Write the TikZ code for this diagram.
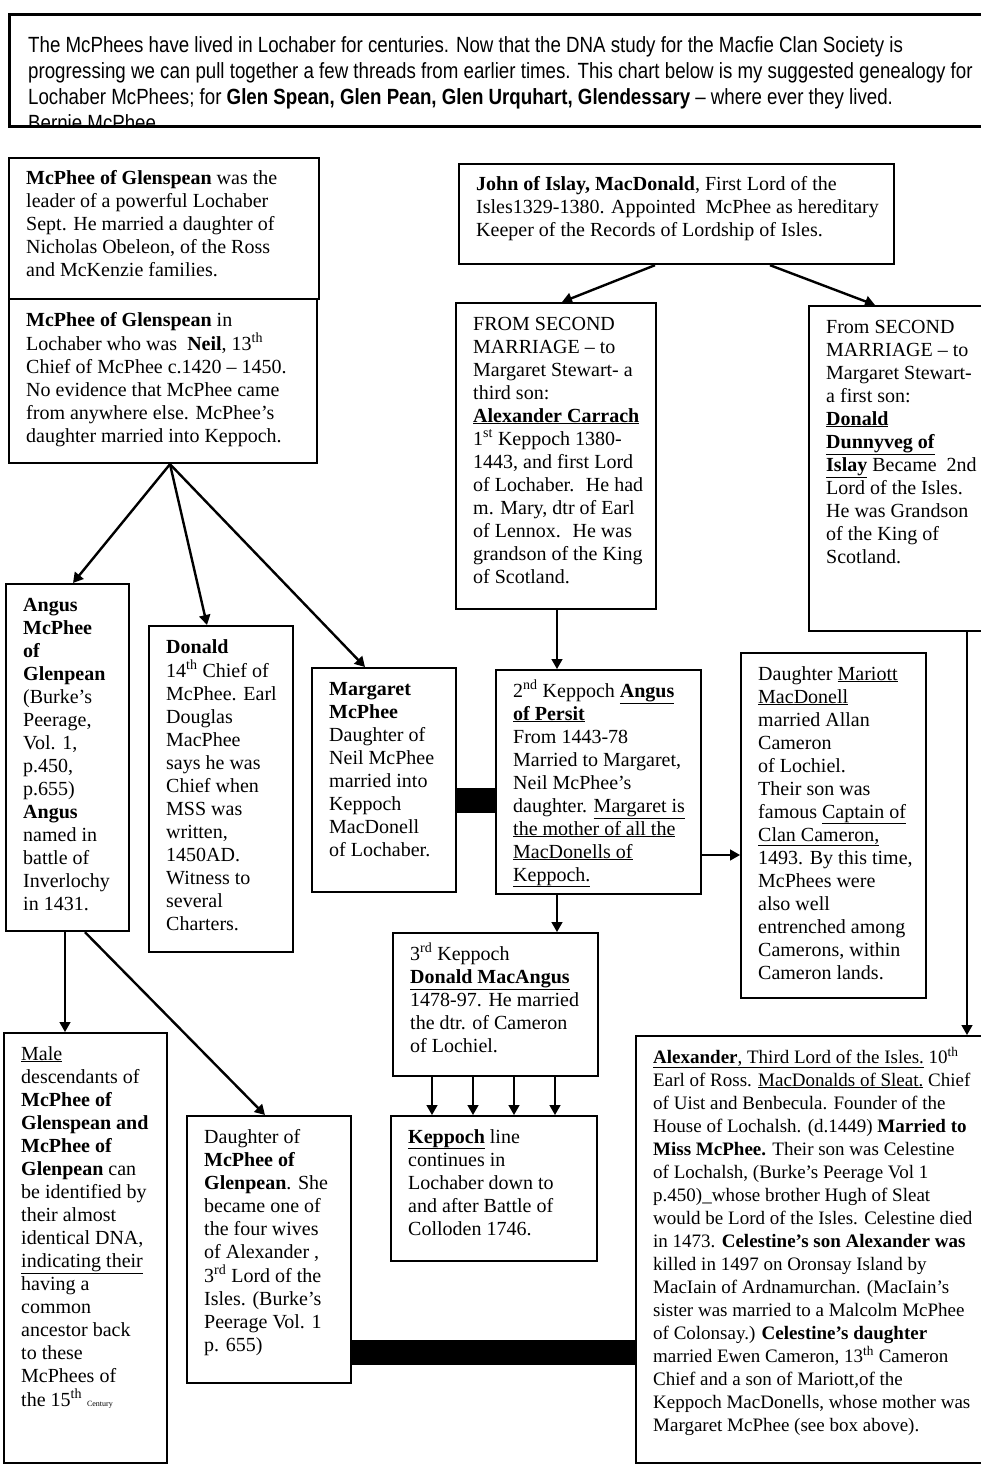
\documentclass[tikz,border=0pt]{standalone}
\usepackage{fontspec}
\setmainfont{Liberation Serif}
\newfontfamily\hdrfont[FakeStretch=0.85]{Liberation Sans}
\usetikzlibrary{arrows.meta,calc}
\tikzset{
  gb/.style={draw=black, line width=2.2pt, fill=white, anchor=north west, inner sep=0pt},
  txt/.style={anchor=base west, inner sep=0pt},
  arr/.style={line width=2.4pt, -{Triangle[width=11pt,length=10pt]}},
  tarr/.style={line width=1.4pt, -{Triangle[width=11pt,length=10pt]}},
  bar/.style={line width=25pt}
}
\newcommand{\gbox}[7][20]{%
  \node[gb, minimum width=#5, minimum height=#6] (#2) at (#3,#4) {};
  \node[txt, font=\fontsize{#1}{23}\selectfont] (#2t) at ($(#2.north west)+(18,28)$) {\begin{tabular}[t]{@{}l@{}}#7\end{tabular}};}
\begin{document}
\begin{tikzpicture}[x=1pt,y=-1pt]
\useasboundingbox (0,0) rectangle (981,1466);
\clip (0,0) rectangle (981,1466);
\fill[white] (0,0) rectangle (981,1466);

% header
\node[draw=black, line width=3pt, anchor=north west, minimum width=990, minimum height=112, inner sep=0pt] (hdr) at (8,13) {};
\begin{scope}
\clip (hdr.north west) rectangle (hdr.south east);
\node[anchor=base west, inner sep=0pt, font=\hdrfont\fontsize{22}{26}\selectfont] (hdrt) at ($(hdr.north west)+(20,40)$) {\begin{tabular}[t]{@{}l@{}}
The McPhees have lived in Lochaber for centuries. Now that the DNA study for the Macfie Clan Society is\\
progressing we can pull together a few threads from earlier times. This chart below is my suggested genealogy for\\
Lochaber McPhees; for \textbf{Glen Spean, Glen Pean, Glen Urquhart, Glendessary} – where ever they lived.\\
Bernie McPhee
\end{tabular}};
\end{scope}

\gbox{boxa}{8}{157}{310}{141}{%
\textbf{McPhee of Glenspean} was the\\
leader of a powerful Lochaber\\
Sept. He married a daughter of\\
Nicholas Obeleon, of the Ross\\
and McKenzie families.}

\gbox{neil}{8}{298}{308}{164}{%
\textbf{McPhee of Glenspean} in\\
Lochaber who was \ \textbf{Neil}, 13\textsuperscript{th}\\
Chief of McPhee c.1420 – 1450.\\
No evidence that McPhee came\\
from anywhere else. McPhee's\\
daughter married into Keppoch.}

\gbox{john}{458}{163}{435}{100}{%
\textbf{John of Islay, MacDonald}, First Lord of the\\
Isles1329-1380. Appointed \ McPhee as hereditary\\
Keeper of the Records of Lordship of Isles.}

\gbox{froml}{455}{302}{200}{306}{%
FROM SECOND\\
MARRIAGE – to\\
Margaret Stewart- a\\
third son:\\
\underline{\textbf{Alexander Carrach}}\\
1\textsuperscript{st} Keppoch 1380-\\
1443, and first Lord\\
of Lochaber. \ He had\\
m. Mary, dtr of Earl\\
of Lennox. \ He was\\
grandson of the King\\
of Scotland.}

\gbox{fromr}{808}{305}{190}{325}{%
From SECOND\\
MARRIAGE – to\\
Margaret Stewart-\\
a first son:\\
\underline{\textbf{Donald}}\\
\underline{\textbf{Dunnyveg of}}\\
\underline{\textbf{Islay}} Became \ 2nd\\
Lord of the Isles.\\
He was Grandson\\
of the King of\\
Scotland.}

\gbox{angus}{5}{583}{123}{347}{%
\textbf{Angus}\\
\textbf{McPhee}\\
\textbf{of}\\
\textbf{Glenpean}\\
(Burke's\\
Peerage,\\
Vol. 1,\\
p.450,\\
p.655)\\
\textbf{Angus}\\
named in\\
battle of\\
Inverlochy\\
in 1431.}

\gbox{donald}{148}{625}{144}{326}{%
\textbf{Donald}\\
14\textsuperscript{th} Chief of\\
McPhee. Earl\\
Douglas\\
MacPhee\\
says he was\\
Chief when\\
MSS was\\
written,\\
1450AD.\\
Witness to\\
several\\
Charters.}

\gbox{marg}{311}{667}{144}{224}{%
\textbf{Margaret}\\
\textbf{McPhee}\\
Daughter of\\
Neil McPhee\\
married into\\
Keppoch\\
MacDonell\\
of Lochaber.}

\gbox{kepb}{495}{669}{205}{224}{%
2\textsuperscript{nd} Keppoch \underline{\textbf{Angus}}\\
\underline{\textbf{of Persit}}\\
From 1443-78\\
Married to Margaret,\\
Neil McPhee's\\
daughter. \underline{Margaret is}\\
\underline{the mother of all the}\\
\underline{MacDonells of}\\
\underline{Keppoch.}}

\gbox{mariott}{740}{652}{185}{345}{%
Daughter \underline{Mariott}\\
\underline{MacDonell}\\
married Allan\\
Cameron\\
of Lochiel.\\
Their son was\\
famous \underline{Captain of}\\
\underline{Clan Cameron,}\\
1493. By this time,\\
McPhees were\\
also well\\
entrenched among\\
Camerons, within\\
Cameron lands.}

\gbox{kepc}{392}{932}{205}{143}{%
3\textsuperscript{rd} Keppoch\\
\underline{\textbf{Donald MacAngus}}\\
1478-97. He married\\
the dtr. of Cameron\\
of Lochiel.}

\gbox{kline}{390}{1115}{206}{145}{%
\underline{\textbf{Keppoch}} line\\
continues in\\
Lochaber down to\\
and after Battle of\\
Colloden 1746.}

\gbox{male}{3}{1032}{163}{430}{%
\underline{Male}\\
descendants of\\
\textbf{McPhee of}\\
\textbf{Glenspean and}\\
\textbf{McPhee of}\\
\textbf{Glenpean} can\\
be identified by\\
their almost\\
identical DNA,\\
\underline{indicating their}\\
having a\\
common\\
ancestor back\\
to these\\
McPhees of\\
the 15\textsuperscript{th} {\fontsize{8}{9}\selectfont Century}}

\gbox{daught}{186}{1115}{164}{267}{%
Daughter of\\
\textbf{McPhee of}\\
\textbf{Glenpean}. She\\
became one of\\
the four wives\\
of Alexander ,\\
3\textsuperscript{rd} Lord of the\\
Isles. (Burke's\\
Peerage Vol. 1\\
p. 655)}

\gbox[19]{alex}{635}{1035}{360}{427}{%
\underline{\textbf{Alexander}, Third Lord of the Isles.} 10\textsuperscript{th}\\
Earl of Ross. \underline{MacDonalds of Sleat.} Chief\\
of Uist and Benbecula. Founder of the\\
House of Lochalsh. (d.1449) \textbf{Married to}\\
\textbf{Miss McPhee.} Their son was Celestine\\
of Lochalsh, (Burke's Peerage Vol 1\\
p.450)\_whose brother Hugh of Sleat\\
would be Lord of the Isles. Celestine died\\
in 1473. \textbf{Celestine's son Alexander was}\\
killed in 1497 on Oronsay Island by\\
MacIain of Ardnamurchan. (MacIain's\\
sister was married to a Malcolm McPhee\\
of Colonsay.) \textbf{Celestine's daughter}\\
married Ewen Cameron, 13\textsuperscript{th} Cameron\\
Chief and a son of Mariott,of the\\
Keppoch MacDonells, whose mother was\\
Margaret McPhee (see box above).}

% connectors
\draw[arr] ($(neil.south west)+(162,0)$) -- ($(angus.north west)+(68,0)$);
\draw[arr] ($(neil.south west)+(162,0)$) -- ($(donald.north west)+(59,0)$);
\draw[arr] ($(neil.south west)+(162,0)$) -- ($(marg.north west)+(54,0)$);
\draw[arr] ($(john.south west)+(197,0)$) -- ($(froml.north west)+(107,0)$);
\draw[arr] ($(john.south west)+(312,0)$) -- ($(fromr.north west)+(67,0)$);
\draw[tarr] ($(froml.south west)+(102,0)$) -- ($(kepb.north west)+(62,0)$);
\draw[tarr] ($(kepb.south west)+(62,0)$) -- ($(kepc.north west)+(165,0)$);
\draw[tarr] ($(kepb.north east)+(0,186)$) -- ($(mariott.north west)+(0,203)$);
\draw[tarr] ($(fromr.south west)+(159,0)$) -- ($(alex.north west)+(332,0)$);
\draw[tarr] ($(kepc.south west)+(40,0)$) -- ($(kline.north west)+(42,0)$);
\draw[tarr] ($(kepc.south west)+(81,0)$) -- ($(kline.north west)+(83,0)$);
\draw[tarr] ($(kepc.south west)+(122,0)$) -- ($(kline.north west)+(124,0)$);
\draw[tarr] ($(kepc.south west)+(163,0)$) -- ($(kline.north west)+(165,0)$);
\draw[tarr] ($(angus.south west)+(60,0)$) -- ($(male.north west)+(62,0)$);
\draw[arr] ($(angus.south west)+(80,0)$) -- ($(daught.north west)+(79,0)$);
\draw[bar] ($(marg.north east)+(0,133)$) -- ($(kepb.north west)+(0,131)$);
\draw[bar] ($(daught.north east)+(0,237)$) -- ($(alex.north west)+(0,317)$);
\end{tikzpicture}
\end{document}
